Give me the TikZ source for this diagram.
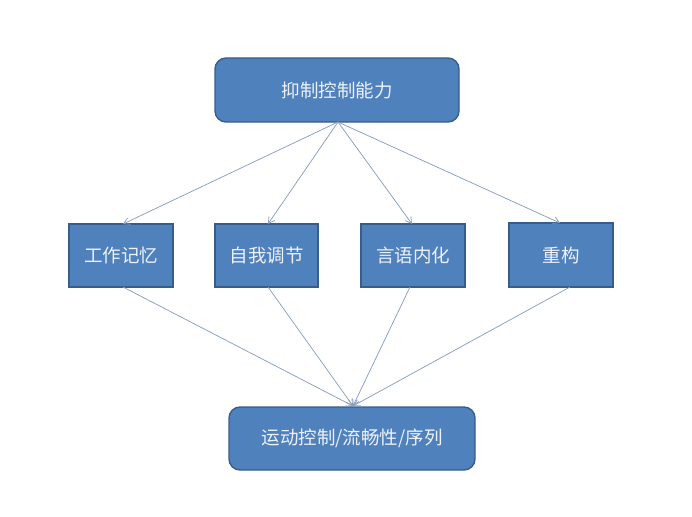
\documentclass[tikz,border=0pt]{standalone}
\usepackage{fontspec}
\newfontfamily\cjk{Noto Sans CJK SC}
\usetikzlibrary{arrows.meta}
\definecolor{boxfill}{HTML}{4F81BD}
\definecolor{boxline}{HTML}{385D8A}
\definecolor{lnk}{HTML}{8A9EBE}
\definecolor{txt}{HTML}{EEF2F8}
\begin{document}
\begin{tikzpicture}[x=1pt,y=-1pt,
  base/.style={draw=boxline,line width=1.4pt,fill=boxfill,text=txt,font=\cjk\fontsize{18.5}{21}\selectfont,inner sep=0pt},
  rbox/.style={base,rounded corners=11pt},
  sbox/.style={base},
  link/.style={draw=lnk,line width=0.75pt,-{Straight Barb[length=6pt,width=7pt]}}]
\useasboundingbox (0,0) rectangle (692,516);
\node[rbox,minimum width=244pt,minimum height=64pt] (top) at (337,90) {抑制控制能力};
\node[sbox,minimum width=104pt,minimum height=63pt] (a) at (121,255.5) {工作记忆};
\node[sbox,minimum width=103pt,minimum height=63pt] (b) at (266.5,255.5) {自我调节};
\node[sbox,minimum width=104pt,minimum height=63pt] (c) at (413,255.5) {言语内化};
\node[sbox,minimum width=104pt,minimum height=64pt] (d) at (561,255) {重构};
\node[rbox,minimum width=246pt,minimum height=63pt] (bot) at (352,438.5) {运动控制/流畅性/序列};
\coordinate (ts) at (338,122);
\coordinate (bs) at (353,406);
\coordinate (a1) at (123,224);
\coordinate (b1) at (268,224);
\coordinate (c1) at (412,224);
\coordinate (d1) at (560,223);
\coordinate (a2) at (123,287);
\coordinate (b2) at (268,287);
\coordinate (c2) at (410,287);
\coordinate (d2) at (570,287);
\draw[link] (ts) -- (a1);
\draw[link] (ts) -- (b1);
\draw[link] (ts) -- (c1);
\draw[link] (ts) -- (d1);
\draw[link] (a2) -- (bs);
\draw[link] (b2) -- (bs);
\draw[link] (c2) -- (bs);
\draw[link] (d2) -- (bs);
\end{tikzpicture}
\end{document}
